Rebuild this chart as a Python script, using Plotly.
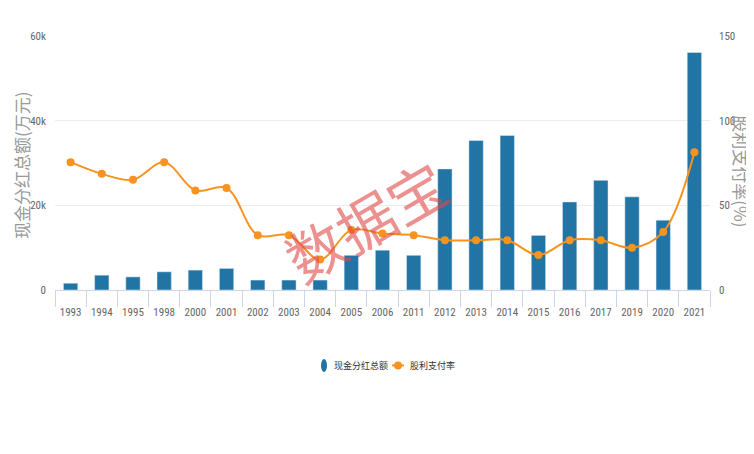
import plotly.graph_objects as go

years = ['1993', '1994', '1995', '1998', '2000', '2001', '2002', '2003', '2004', '2005', '2006',
         '2011', '2012', '2013', '2014', '2015', '2016', '2017', '2019', '2020', '2021']
# 现金分红总额 (万元)
dividend = [1600, 3500, 3100, 4300, 4700, 5100, 2350, 2350, 2350, 8200, 9400,
            8200, 28600, 35300, 36500, 12900, 20800, 25900, 22000, 16500, 56100]
# 股利支付率 (%)
payout = [75.5, 68.6, 65.1, 75.5, 58.8, 60.2, 32.4, 32.4, 18.0, 35.5, 33.3,
          32.4, 29.4, 29.4, 29.4, 20.6, 29.4, 29.4, 24.9, 34.3, 81.4]

blue = '#2274a5'
orange = '#f7931e'
grey = '#666666'
cjk = 'Noto Sans CJK SC'

fig = go.Figure()
fig.add_trace(go.Bar(x=years, y=dividend, marker_color=blue, width=0.46,
                     showlegend=False, name='现金分红总额'))
fig.add_trace(go.Scatter(x=years, y=payout, yaxis='y2', mode='lines+markers', name='股利支付率',
                         showlegend=False,
                         line=dict(color=orange, width=2, shape='spline', smoothing=1.0),
                         marker=dict(color=orange, size=8, symbol='circle')))

# hand-made legend (compact, like the original)
ly = -0.297
legend_shapes = [
    dict(type='circle', xref='paper', yref='paper', x0=0.4061, x1=0.4153, y0=-0.3228, y1=-0.2717,
         fillcolor=blue, line_width=0),
    dict(type='line', xref='paper', yref='paper', x0=0.5145, x1=0.5328, y0=ly, y1=ly,
         line=dict(color=orange, width=2)),
    dict(type='circle', xref='paper', yref='paper', x0=0.5176, x1=0.5298, y0=ly - 0.0157, y1=ly + 0.0157,
         fillcolor=orange, line_width=0),
]
legend_texts = [
    dict(text='现金分红总额', xref='paper', yref='paper', x=0.4229, y=ly,
         xanchor='left', yanchor='middle', showarrow=False,
         font=dict(size=9, color='#333333', family=cjk)),
    dict(text='股利支付率', xref='paper', yref='paper', x=0.5389, y=ly,
         xanchor='left', yanchor='middle', showarrow=False,
         font=dict(size=9, color='#333333', family=cjk)),
]

fig.update_layout(
    width=754, height=454,
    margin=dict(l=47, r=52, t=28, b=172, autoexpand=False),
    plot_bgcolor='white', paper_bgcolor='white',
    font=dict(family='Liberation Sans Narrow, Roboto Condensed, Roboto, sans-serif', size=11, color=grey),
    showlegend=False,
    xaxis=dict(type='category', range=[-0.5, len(years) - 0.5], showline=True,
               linecolor='#ccd6eb', ticks='outside', tickson='boundaries', ticklen=16,
               tickcolor='#ccd6eb', showgrid=False, tickangle=0, ticklabelstandoff=12,
               tickfont=dict(size=11, color=grey)),
    yaxis=dict(range=[0, 60000], tickvals=[0, 20000, 40000, 60000],
               ticktext=['0', '20k', '40k', '60k'], gridcolor='#ececec', gridwidth=1,
               zeroline=False, ticks='', ticklabelstandoff=8),
    yaxis2=dict(range=[0, 150], tickvals=[0, 50, 100, 150], overlaying='y', side='right',
                showgrid=False, zeroline=False, ticklabelstandoff=8),
    shapes=legend_shapes,
    annotations=[
        dict(text='现金分红总额(万元)', textangle=-90, xref='paper', yref='paper',
             x=-0.052, y=0.492, xanchor='center', yanchor='middle', showarrow=False,
             font=dict(size=17, color='#999999', family=cjk)),
        dict(text='股利支付率(%)', textangle=90, xref='paper', yref='paper',
             x=1.049, y=0.467, xanchor='center', yanchor='middle', showarrow=False,
             font=dict(size=17, color='#999999', family=cjk)),
        dict(text='数据宝', textangle=-30, xref='paper', yref='paper',
             x=0.473, y=0.276, xanchor='center', yanchor='middle', showarrow=False, opacity=0.6,
             font=dict(size=58, color='#e04848', family=cjk)),
    ] + legend_texts,
)

fig.write_html('out.html')
